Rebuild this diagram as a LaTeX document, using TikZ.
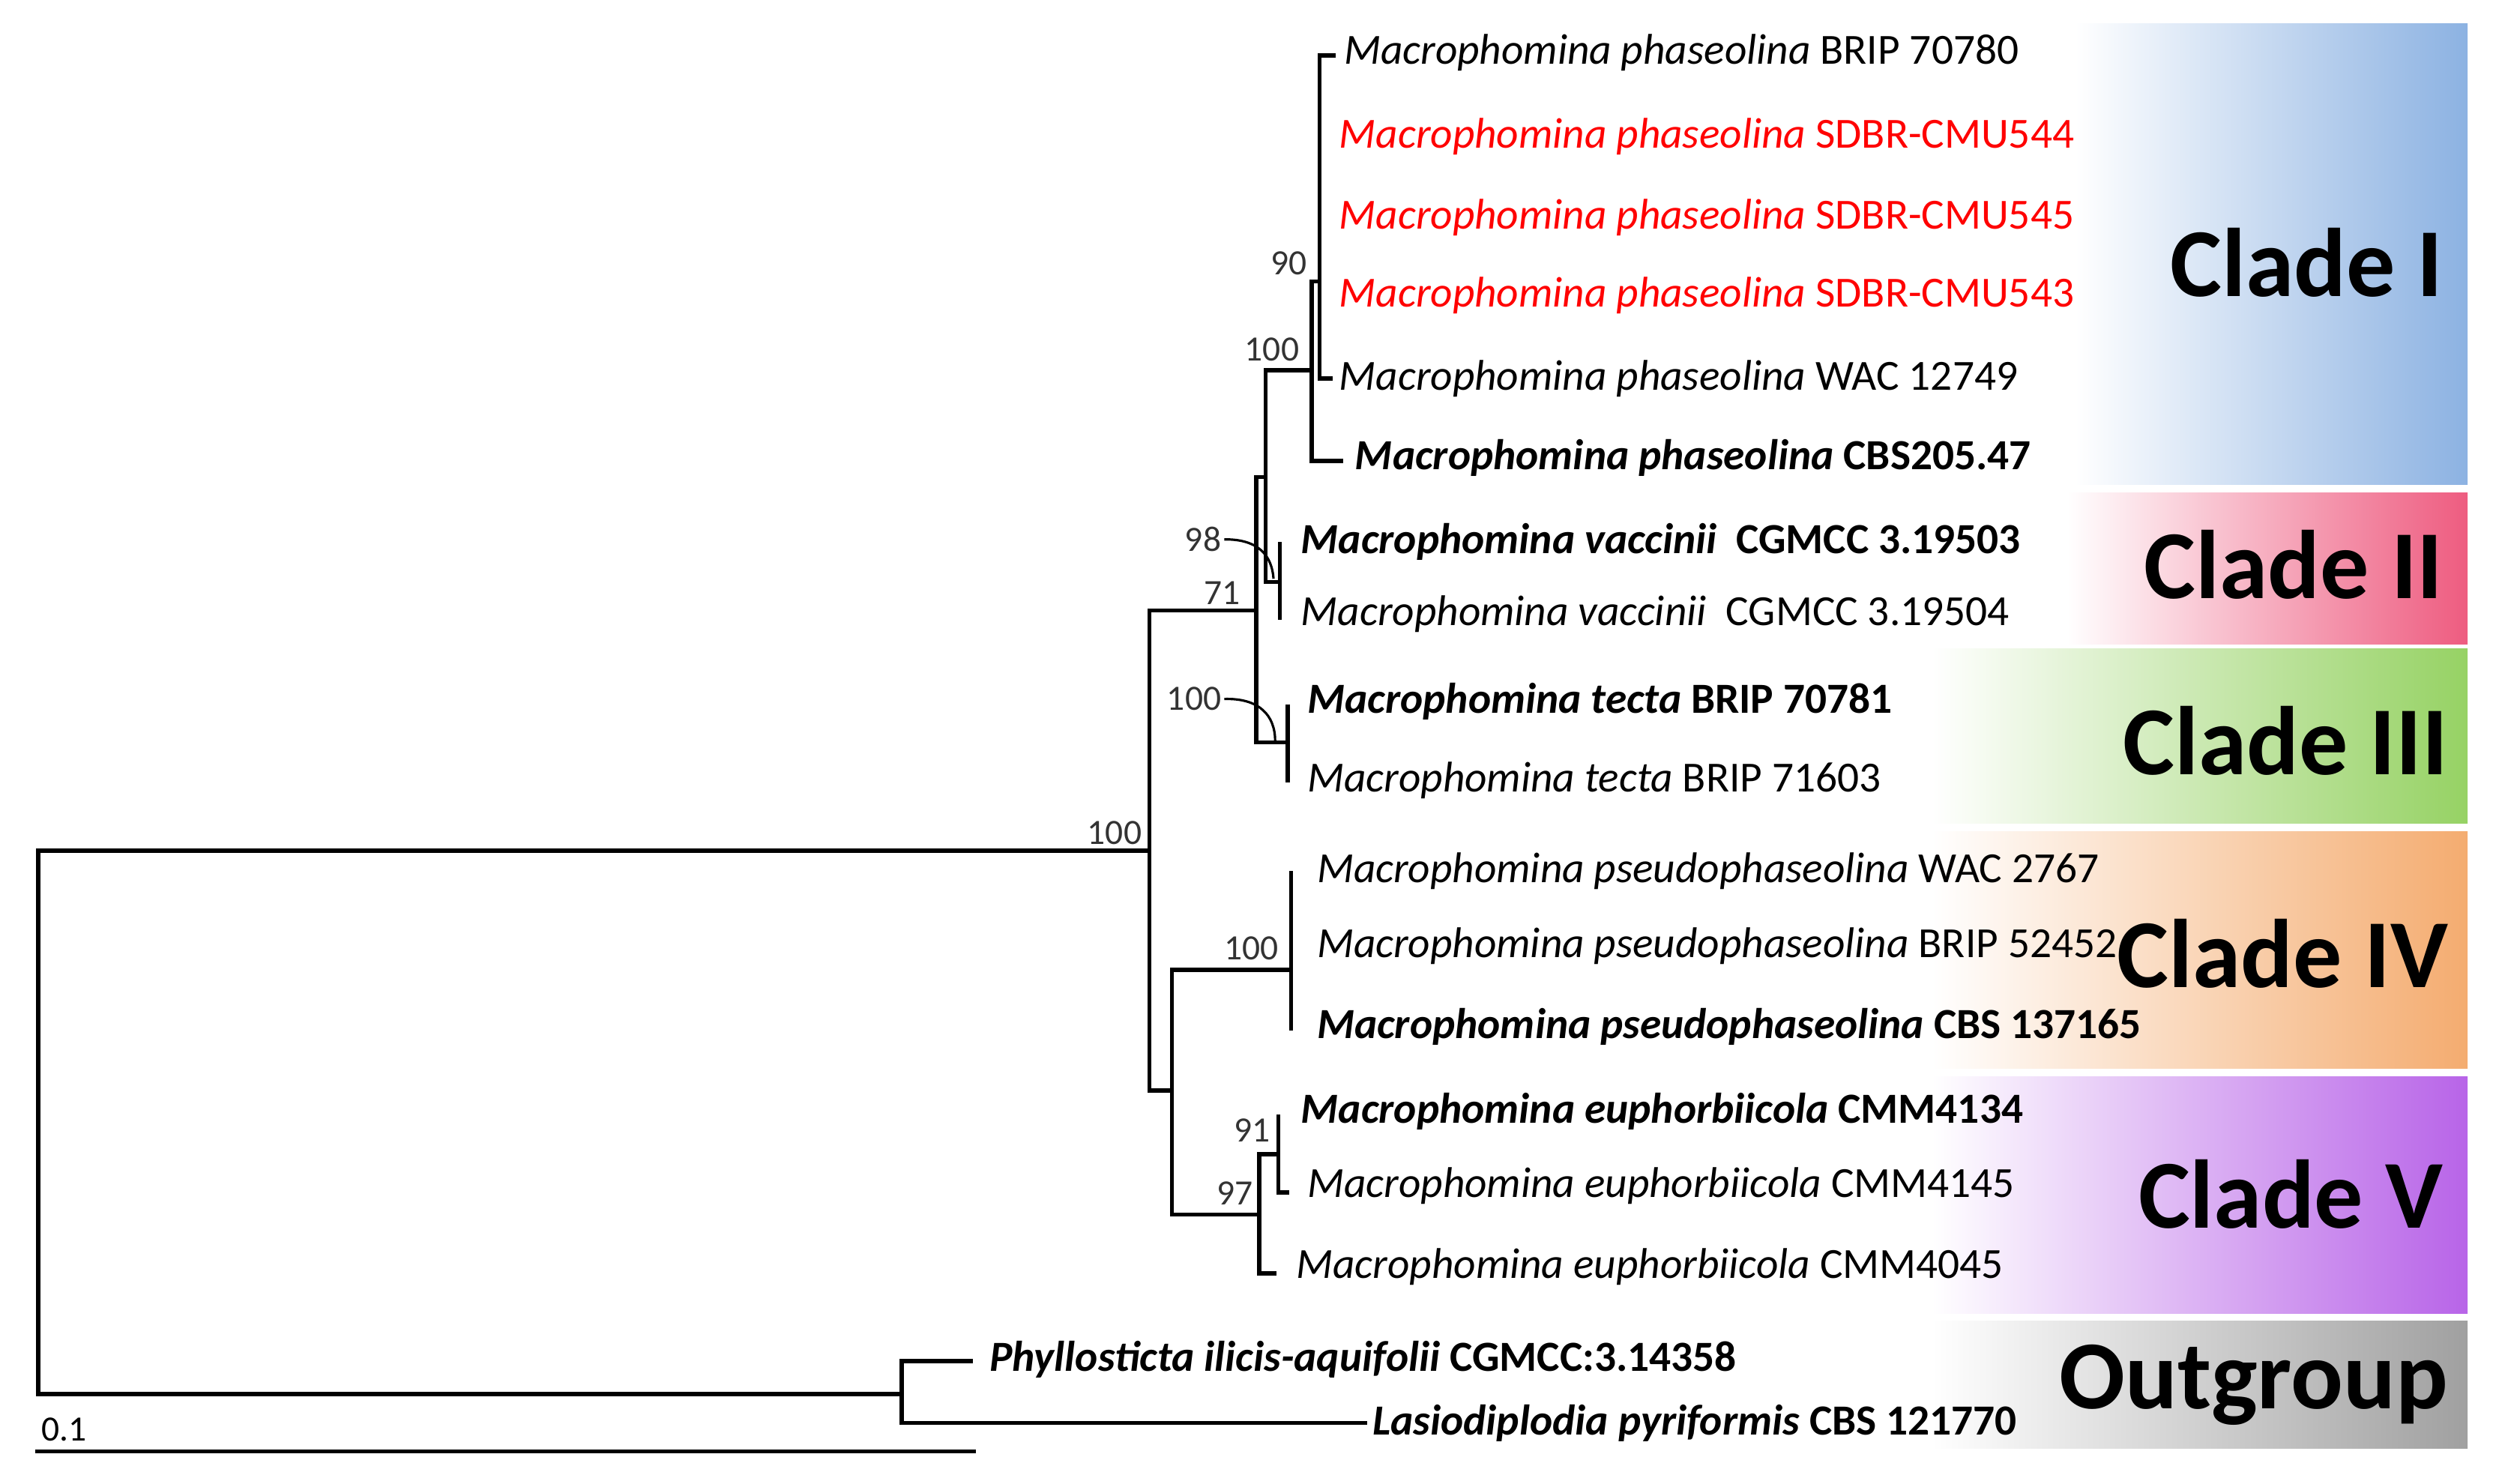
\documentclass[tikz,border=0pt]{standalone}
\usepackage{fontspec}
\setmainfont{Carlito}
\begin{document}
\begin{tikzpicture}[x=0.02121cm,y=-0.02121cm,
  br/.style={line width=1.6pt},
  tip/.style={anchor=west,inner sep=0pt,font=\fontsize{16.3}{18}\selectfont},
  bs/.style={anchor=south east,inner sep=1pt,font=\fontsize{13.5}{15}\selectfont,text=black!80},
  clade/.style={anchor=east,inner sep=0pt,font=\fontsize{37}{40}\selectfont\bfseries},
  bsarc/.style={line width=0.9pt}]
\useasboundingbox (0,0) rectangle (1568,933);
% clade boxes
\shade[left color=white,right color={rgb,255:red,140;green,178;blue,226}] (1305,15) rectangle (1552,305);
\shade[left color=white,right color={rgb,255:red,238;green,92;blue,128}] (1300,310) rectangle (1552,405);
\shade[left color=white,right color={rgb,255:red,150;green,210;blue,100}] (1215,408) rectangle (1552,518);
\shade[left color=white,right color={rgb,255:red,244;green,172;blue,112}] (1215,523) rectangle (1552,672);
\shade[left color=white,right color={rgb,255:red,184;green,100;blue,232}] (1215,677) rectangle (1552,826);
\shade[left color=white,right color={rgb,255:red,160;green,160;blue,160}] (1215,831) rectangle (1552,911);
\node[clade] (cI) at (1537,165) {Clade I};
\node[clade] (cII) at (1537,355) {Clade II};
\node[clade] (cIII) at (1540,466) {Clade III};
\node[clade] (cIV) at (1540,600) {Clade IV};
\node[clade] (cV) at (1537,751) {Clade V};
\node[clade] (cO) at (1540,871) {Outgroup};
% internal nodes
\coordinate (R) at (24,706);
\coordinate (A) at (723,535);
\coordinate (B) at (790,384);
\coordinate (C) at (737,686);
\coordinate (D) at (796,300);
\coordinate (E) at (825,233);
\coordinate (F) at (830,177);
\coordinate (V) at (805,366);
\coordinate (T) at (810,467);
\coordinate (P) at (812,610);
\coordinate (Q) at (792,764);
\coordinate (W) at (804,726);
\coordinate (O) at (567,877);
% tips
\coordinate (t1) at (840,35);
\coordinate (t5) at (838,238);
\coordinate (t6) at (845,290);
\coordinate (v1) at (805,341);
\coordinate (v2) at (805,390);
\coordinate (m1) at (810,443);
\coordinate (m2) at (810,492);
\coordinate (p1) at (812,548);
\coordinate (p3) at (812,648);
\coordinate (e1) at (804,701);
\coordinate (e2) at (811,750);
\coordinate (e3) at (803,801);
\coordinate (o1) at (612,856);
\coordinate (o2) at (860,895);
% branches
\draw[br] (R) |- (A); \draw[br] (R) |- (O);
\draw[br] (A) |- (B); \draw[br] (A) |- (C);
\draw[br] (B) |- (D); \draw[br] (B) |- (T);
\draw[br] (D) |- (E); \draw[br] (D) |- (V);
\draw[br] (E) |- (F); \draw[br] (E) |- (t6);
\draw[br] (F) |- (t1); \draw[br] (F) |- (t5);
\draw[br] (v1) -- (v2);
\draw[br] (m1) -- (m2);
\draw[br] (p1) -- (p3);
\draw[br] (C) |- (P); \draw[br] (C) |- (Q);
\draw[br] (Q) |- (W); \draw[br] (Q) |- (e3);
\draw[br] (W) |- (e1); \draw[br] (W) |- (e2);
\draw[br] (O) |- (o1); \draw[br] (O) |- (o2);
% tip labels
\node[tip] (L1) at (845,33) {\textit{Macrophomina phaseolina} BRIP 70780};
\node[tip,text=red] (L2) at (842,86) {\textit{Macrophomina phaseolina} SDBR-CMU544};
\node[tip,text=red] (L3) at (842,137) {\textit{Macrophomina phaseolina} SDBR-CMU545};
\node[tip,text=red] (L4) at (842,186) {\textit{Macrophomina phaseolina} SDBR-CMU543};
\node[tip] (L5) at (842,238) {\textit{Macrophomina phaseolina} WAC 12749};
\node[tip] (L6) at (852,288) {\textbf{\textit{Macrophomina phaseolina} CBS205.47}};
\node[tip] (L7) at (818,341) {\textbf{\textit{Macrophomina vaccinii}\ \ CGMCC 3.19503}};
\node[tip] (L8) at (818,386) {\textit{Macrophomina vaccinii}\ \ CGMCC 3.19504};
\node[tip] (L9) at (822,441) {\textbf{\textit{Macrophomina tecta} BRIP 70781}};
\node[tip] (L10) at (822,491) {\textit{Macrophomina tecta} BRIP 71603};
\node[tip] (L11) at (828,548) {\textit{Macrophomina pseudophaseolina} WAC 2767};
\node[tip] (L12) at (828,595) {\textit{Macrophomina pseudophaseolina} BRIP 52452};
\node[tip] (L13) at (828,646) {\textbf{\textit{Macrophomina pseudophaseolina} CBS 137165}};
\node[tip] (L14) at (818,699) {\textbf{\textit{Macrophomina euphorbiicola} CMM4134}};
\node[tip] (L15) at (822,746) {\textit{Macrophomina euphorbiicola} CMM4145};
\node[tip] (L16) at (815,797) {\textit{Macrophomina euphorbiicola} CMM4045};
\node[tip] (L17) at (622,855) {\textbf{\textit{Phyllosticta ilicis-aquifolii} CGMCC:3.14358}};
\node[tip] (L18) at (863,895) {\textbf{\textit{Lasiodiplodia pyriformis} CBS 121770}};
% bootstrap
\node[bs] (b1) at (720,533) {100};
\node[bs] (b2) at (782,382) {71};
\node[bs] (b3) at (770,349) {98};
\node[bs] (b4) at (770,449) {100};
\node[bs] (b5) at (824,175) {90};
\node[bs] (b6) at (819,229) {100};
\node[bs] (b7) at (806,606) {100};
\node[bs] (b8) at (801,720) {91};
\node[bs] (b9) at (790,760) {97};
\coordinate (a3) at (801,364);
\coordinate (a4) at (802,466);
\draw[bsarc] (b3.east) .. controls (792,339) and (800,350) .. (a3);
\draw[bsarc] (b4.east) .. controls (792,439) and (802,450) .. (a4);
% scale bar
\coordinate (s1) at (22,913);
\coordinate (s2) at (614,913);
\draw[line width=1.6pt] (s1) -- (s2);
\node[anchor=west,inner sep=0pt,font=\fontsize{13.5}{15}\selectfont] (sb) at (26,899) {0.1};
\end{tikzpicture}
\end{document}
